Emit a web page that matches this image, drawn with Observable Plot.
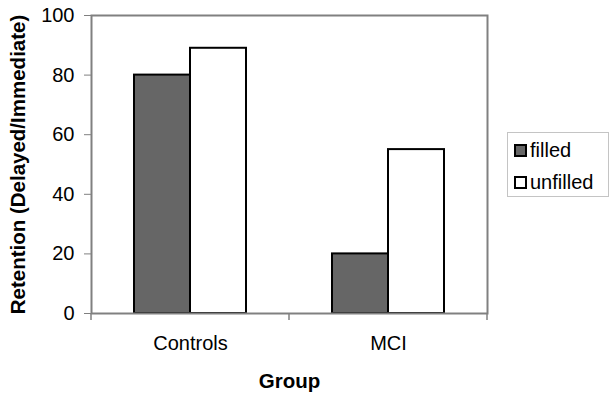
<!DOCTYPE html>
<html><head><meta charset="utf-8">
<script src="https://cdn.jsdelivr.net/npm/d3@7"></script>
<script src="https://cdn.jsdelivr.net/npm/@observablehq/plot@0.6"></script>
<style>
body{margin:0;background:#fff;font-family:"Liberation Sans",Arial,sans-serif;}
#wrap{position:relative;width:614px;height:400px;}
#chart svg{display:block;}
#chart g[aria-label="y-axis label"] text, #chart g[aria-label="fx-axis label"] text{font-weight:bold;font-size:20.5px;}
.legend{position:absolute;left:507px;top:132px;width:100px;height:63px;border:1px solid #c4c4c4;font-size:20px;color:#000;background:#fff;}
.row{position:absolute;left:6px;height:24px;display:flex;align-items:center;}
.sw{width:13px;height:13px;box-sizing:border-box;border:2px solid #000;margin-right:3px;}
</style>
</head><body>
<div id="wrap"><div id="chart"></div><div class="legend" id="legend"></div></div>
<script>
const groups = ["Controls", "MCI"];
const series = ["filled", "unfilled"];
const filledValues = [80, 20];
const unfilledValues = [89, 55];
const yTicks = [0, 20, 40, 60, 80, 100];
const seriesColors = ["#666666", "#ffffff"];
const yLabel = "Retention (Delayed/Immediate)";
const xLabel = "Group";

const data = groups.flatMap((g, i) => [
  {group: g, series: series[0], value: filledValues[i]},
  {group: g, series: series[1], value: unfilledValues[i]}
]);

const plot = Plot.plot({
  width: 614, height: 400,
  marginTop: 15, marginBottom: 87, marginLeft: 91, marginRight: 127,
  style: {fontFamily: "'Liberation Sans', Arial, sans-serif", fontSize: "20px", color: "#000", background: "#fff", overflow: "visible"},
  fx: {domain: groups, padding: 0},
  x: {domain: series, paddingInner: 0, paddingOuter: 0.75, axis: null},
  y: {domain: [0, 100]},
  color: {domain: series, range: seriesColors},
  marks: [
    Plot.barY(data, {fx: "group", x: "series", y: "value", fill: "series", stroke: "#000", strokeWidth: 2}),
    Plot.frame({facet: "super", stroke: "#808080", strokeWidth: 2}),
    Plot.axisY({ticks: yTicks, tickSize: 7, tickPadding: 10, fontSize: 20, stroke: "#808080", fill: "#000", label: yLabel, labelAnchor: "center", labelArrow: "none", labelOffset: 81}),
    Plot.axisFx({anchor: "bottom", tickSize: 0, tickPadding: 22, fontSize: 20, label: xLabel, labelAnchor: "center", labelOffset: 74})
  ]
});
document.getElementById("chart").appendChild(plot);

// boundary ticks under the group bands, positioned with Plot's own scales
const fxS = plot.scale("fx"), yS = plot.scale("y");
const edges = groups.map(g => fxS.apply(g));
edges.push(fxS.apply(groups[groups.length - 1]) + fxS.bandwidth);
const y0 = yS.apply(0);
d3.select(plot).append("g").attr("stroke", "#808080").attr("stroke-width", 1.5)
  .selectAll("line").data(edges).join("line")
  .attr("x1", d => d).attr("x2", d => d).attr("y1", y0).attr("y2", y0 + 7);

// legend
const leg = d3.select("#legend");
series.forEach((s, i) => {
  const row = leg.append("div").attr("class", "row").style("top", (5 + i * 32) + "px");
  row.append("div").attr("class", "sw").style("background", seriesColors[i]);
  row.append("span").text(s);
});
</script>
</body></html>
